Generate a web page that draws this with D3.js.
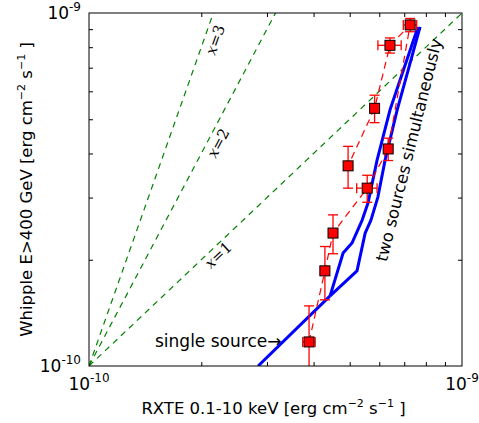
<!DOCTYPE html>
<html>
  <head>
    <script src="https://d3js.org/d3.v7.min.js"></script>
    <style>
      body { margin: 0; background: #fff; }
      svg { font-family: "DejaVu Sans", sans-serif; }
    </style>
  </head>
  <body>
    <svg id="chart" width="479" height="423"></svg>
    <script>
      // data, in units of 1e-10 erg cm^-2 s^-1
      const rxte = [3.89, 4.29, 4.51, 5.57, 6.34, 7.26, 6.41, 5.83, 4.95];
      const rxteErr = [0.15, 0.12, 0.08, 0.35, 0.13, 0.3, 0.46, 0.05, 0.05];
      const whipple = [1.17, 1.86, 2.38, 3.19, 4.12, 9.25, 8.1, 5.37, 3.69];
      const whippleErr = [0.31, 0.32, 0.3, 0.28, 0.3, 0.4, 0.4, 0.48, 0.5];

      // model curves
      const singleX = [2.84, 4.43];
      const singleY = [1.0, 1.58];
      const twoAX = [4.43, 4.8, 5.07, 5.4, 5.6, 5.92, 6.41, 7.62];
      const twoAY = [1.58, 2.09, 2.23, 2.59, 2.9, 3.83, 5.31, 9.13];
      const twoBX = [4.43, 5.23, 5.5, 5.7, 5.95, 6.22, 6.7, 7.72];
      const twoBY = [1.58, 1.86, 2.38, 2.59, 3.01, 3.83, 5.31, 9.13];

      // power-law guide lines y ~ x^n and their labels
      const powers = [1, 2, 3];
      const powerLabelX = [2.22, 2.22, 2.18];
      const powerLabelY = [2.06, 4.28, 8.39];

      const minorTicks = [2, 3, 4, 5, 6, 7, 8, 9];

      const svg = d3.select("#chart");
      const pLeft = 89, pRight = 462, pTop = 13, pBottom = 366;
      const x = d3.scaleLog([1, 10], [pLeft, pRight]);
      const y = d3.scaleLog([1, 10], [pBottom, pTop]);

      svg.append("defs").append("clipPath").attr("id", "clip")
        .append("rect")
        .attr("x", pLeft).attr("y", pTop)
        .attr("width", pRight - pLeft).attr("height", pBottom - pTop);

      const plot = svg.append("g").attr("clip-path", "url(#clip)");

      // green guide lines
      powers.forEach((n, i) => {
        plot.append("line")
          .attr("x1", x(1)).attr("y1", y(1))
          .attr("x2", x(10)).attr("y2", y(Math.pow(10, n)))
          .attr("stroke", "#008000")
          .attr("stroke-width", 1.2)
          .attr("stroke-dasharray", "6,5");
        const ang = Math.atan(n * (pBottom - pTop) / (pRight - pLeft)) * 180 / Math.PI;
        const t = svg.append("text")
          .attr("transform", `translate(${x(powerLabelX[i])},${y(powerLabelY[i])}) rotate(${-ang})`)
          .attr("text-anchor", "middle")
          .attr("dy", "0.35em")
          .style("font-family", "'DejaVu Serif', serif")
          .style("font-size", "15px");
        t.append("tspan").style("font-style", "italic").text("x");
        t.append("tspan").text("=" + n);
      });

      // blue model curves
      const line = d3.line().x(d => x(d[0])).y(d => y(d[1]));
      [[singleX, singleY], [twoAX, twoAY], [twoBX, twoBY]].forEach(([xs, ys]) => {
        plot.append("path")
          .attr("d", line(xs.map((v, i) => [v, ys[i]])))
          .attr("fill", "none")
          .attr("stroke", "#0000ff")
          .attr("stroke-width", 3)
          .attr("stroke-linejoin", "round");
      });

      // red data: dashed connecting line
      const pts = rxte.map((v, i) => [v, whipple[i]]);
      plot.append("path")
        .attr("d", line(pts))
        .attr("fill", "none")
        .attr("stroke", "#ff0000")
        .attr("stroke-width", 1.2)
        .attr("stroke-dasharray", "7,5");

      // error bars
      const cap = 5;
      const eb = plot.append("g").attr("stroke", "#ff0000").attr("stroke-width", 1.3);
      pts.forEach((p, i) => {
        const cx = x(p[0]), cy = y(p[1]);
        const y0 = y(p[1] - whippleErr[i]), y1 = y(p[1] + whippleErr[i]);
        const x0 = x(p[0] - rxteErr[i]), x1 = x(p[0] + rxteErr[i]);
        eb.append("line").attr("x1", cx).attr("x2", cx).attr("y1", y0).attr("y2", y1);
        eb.append("line").attr("x1", cx - cap).attr("x2", cx + cap).attr("y1", y0).attr("y2", y0);
        eb.append("line").attr("x1", cx - cap).attr("x2", cx + cap).attr("y1", y1).attr("y2", y1);
        eb.append("line").attr("x1", x0).attr("x2", x1).attr("y1", cy).attr("y2", cy);
        eb.append("line").attr("x1", x0).attr("x2", x0).attr("y1", cy - cap).attr("y2", cy + cap);
        eb.append("line").attr("x1", x1).attr("x2", x1).attr("y1", cy - cap).attr("y2", cy + cap);
      });

      // square markers
      const ms = 10;
      plot.selectAll("rect.pt").data(pts).enter().append("rect")
        .attr("class", "pt")
        .attr("x", d => x(d[0]) - ms / 2)
        .attr("y", d => y(d[1]) - ms / 2)
        .attr("width", ms).attr("height", ms)
        .attr("fill", "#ff0000")
        .attr("stroke", "#000")
        .attr("stroke-width", 1);

      // axes: inward minor ticks on all four sides
      const fmt = () => "";
      const ax = [
        [d3.axisBottom(x), `translate(0,${pBottom})`],
        [d3.axisTop(x), `translate(0,${pTop})`],
        [d3.axisLeft(y), `translate(${pLeft},0)`],
        [d3.axisRight(y), `translate(${pRight},0)`]
      ];
      ax.forEach(([a, tr]) => {
        const g = svg.append("g").attr("transform", tr)
          .call(a.tickValues(minorTicks).tickSize(-4).tickFormat(fmt));
        g.select(".domain").remove();
        g.selectAll("line").attr("stroke", "#000");
      });
      svg.append("rect")
        .attr("x", pLeft).attr("y", pTop)
        .attr("width", pRight - pLeft).attr("height", pBottom - pTop)
        .attr("fill", "none").attr("stroke", "#000").attr("stroke-width", 1);

      // tick labels 10^-10 and 10^-9
      function powLabel(px, py, exp, anchor) {
        const t = svg.append("text")
          .attr("x", px).attr("y", py)
          .attr("text-anchor", anchor)
          .style("font-size", "17px");
        t.append("tspan").text("10");
        t.append("tspan").attr("dy", -8).style("font-size", "12px").text(exp);
      }
      powLabel(x(1), pBottom + 24, "-10", "middle");
      powLabel(x(10), pBottom + 24, "-9", "middle");
      powLabel(pLeft - 8, y(1) + 6, "-10", "end");
      powLabel(pLeft - 8, y(10) + 6, "-9", "end");

      // axis titles
      function title(sel, label) {
        sel.append("tspan").text(label + " [erg cm");
        sel.append("tspan").attr("dy", -7).style("font-size", "11px").text("\u22122");
        sel.append("tspan").attr("dy", 7).text(" s");
        sel.append("tspan").attr("dy", -7).style("font-size", "11px").text("\u22121");
        sel.append("tspan").attr("dy", 7).text(" ]");
      }
      title(svg.append("text")
        .attr("x", (pLeft + pRight) / 2 - 2).attr("y", 414)
        .attr("text-anchor", "middle")
        .style("font-size", "16.5px"), "RXTE 0.1-10 keV");

      title(svg.append("text")
        .attr("transform", `translate(32,${(pTop + pBottom) / 2}) rotate(-90)`)
        .attr("text-anchor", "middle")
        .style("font-size", "16.5px"), "Whipple E>400 GeV");

      // annotations
      svg.append("text")
        .attr("x", 155).attr("y", 347)
        .style("font-size", "17px")
        .text("single source\u2192");

      svg.append("text")
        .attr("transform", `translate(${x(7.2)},${y(4.09)}) rotate(-76)`)
        .attr("text-anchor", "middle")
        .attr("dy", "0.35em")
        .style("font-size", "16.5px")
        .text("two sources simultaneously");
    </script>
  </body>
</html>
